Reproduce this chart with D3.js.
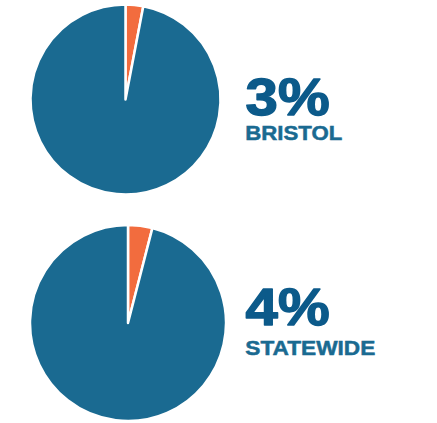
<!DOCTYPE html>
<html><head><meta charset="utf-8">
<script src="https://cdn.jsdelivr.net/npm/d3@7"></script>
<style>body{margin:0;background:#fff;}svg{display:block;}</style>
</head><body>
<script>
const places = ["BRISTOL", "STATEWIDE"];
const shares = [3, 4];
const labels = ["3%", "4%"];

const W = 437, H = 423;
const svg = d3.select("body").append("svg").attr("width", W).attr("height", H);

const layout = [
  {cx: 125.5, cy: 99.5, r: 95, tx: 245, ty: 115, ly: 140, lw: 97},
  {cx: 128, cy: 323, r: 98, tx: 245, ty: 325, ly: 355, lw: 130}
];
const color = d3.scaleOrdinal().domain(["share", "rest"]).range(["#f26c3e", "#1a6a91"]);
const pie = d3.pie().sort(null).value(d => d.v);

places.forEach((p, i) => {
  const L = layout[i];
  const g = svg.append("g").attr("transform", `translate(${L.cx},${L.cy})`);
  const arc = d3.arc().innerRadius(0).outerRadius(L.r);
  g.selectAll("path").data(pie([{k: "share", v: shares[i]}, {k: "rest", v: 100 - shares[i]}]))
    .join("path").attr("d", arc).attr("fill", d => color(d.data.k))
    .attr("stroke", "#fff").attr("stroke-width", 2.5).attr("stroke-linejoin", "round");
  svg.append("text").attr("x", L.tx + 0.6).attr("y", L.ty).text(labels[i])
    .attr("font-family", "Liberation Sans, Arial, sans-serif").attr("font-weight", "bold")
    .attr("font-size", 51).attr("fill", "#0c5a8a").attr("stroke", "#0c5a8a").attr("stroke-width", 1.4)
    .attr("stroke-linejoin", "round")
    .attr("textLength", 84).attr("lengthAdjust", "spacingAndGlyphs");
  svg.append("text").attr("x", L.tx + 0.3).attr("y", L.ly).text(p)
    .attr("font-family", "Liberation Sans, Arial, sans-serif").attr("font-weight", "bold")
    .attr("font-size", 20.5).attr("fill", "#1a6a91").attr("stroke", "#1a6a91").attr("stroke-width", 0.5)
    .attr("textLength", L.lw).attr("lengthAdjust", "spacingAndGlyphs");
});
</script>
</body></html>
